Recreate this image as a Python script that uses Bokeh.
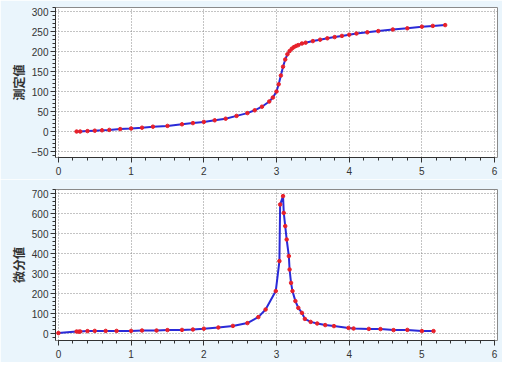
from bokeh.plotting import figure
from bokeh.layouts import column
from bokeh.models import Range1d, SingleIntervalTicker
from bokeh.embed import file_html
from bokeh.resources import INLINE

# Titration curve (測定値)
vol = [0.25, 0.3, 0.4, 0.5, 0.6, 0.7, 0.85, 1.0, 1.15, 1.3, 1.5, 1.7, 1.85, 2.0,
       2.15, 2.3, 2.45, 2.6, 2.7, 2.8, 2.9, 2.95, 3.0, 3.03, 3.06, 3.09, 3.12,
       3.15, 3.18, 3.21, 3.24, 3.27, 3.3, 3.35, 3.4, 3.5, 3.6, 3.7, 3.8, 3.9,
       4.0, 4.1, 4.25, 4.4, 4.6, 4.8, 5.0, 5.15, 5.32]
meas = [0, 0, 1, 2, 3, 4, 6, 7.5, 9.5, 12, 14, 18, 21, 24,
        28, 32, 39, 46, 53, 62, 75, 85, 100, 118, 140, 162, 180,
        193, 201, 207, 211, 214, 216, 220, 222, 226, 229.5, 233, 236, 239,
        242, 245, 248, 251, 255, 258, 262, 264, 266]

# Derivative curve (微分値)
dvol = [0.0, 0.25, 0.28, 0.3, 0.4, 0.5, 0.65, 0.8, 1.0, 1.15, 1.35, 1.5, 1.7,
        1.85, 2.0, 2.2, 2.4, 2.6, 2.75, 2.85, 2.99, 3.04, 3.05, 3.09, 3.10,
        3.12, 3.14, 3.17, 3.18, 3.20, 3.22, 3.26, 3.30, 3.35, 3.39, 3.47, 3.56,
        3.67, 3.79, 3.99, 4.06, 4.27, 4.43, 4.61, 4.80, 5.00, 5.16]
deriv = [2, 10, 9, 10, 12, 13, 13, 13, 13, 15, 15, 17, 18,
         20, 24, 30, 38, 52, 82, 120, 212, 362, 645, 687, 603,
         537, 470, 387, 320, 253, 212, 162, 128, 103, 73, 58, 50,
         42, 37, 28, 25, 23, 22, 17, 18, 12, 12]

x_ticks_interval = 1
BG = "#eaf5fc"
TICK_FONT = "'Liberation Sans Narrow', 'Liberation Sans', sans-serif"


def make_fig(xs, ys, label, yr, yint, top_border, frame_h):
    p = figure(width=502, height=top_border + frame_h + 22,
               x_range=Range1d(-0.04, 6.04), y_range=Range1d(*yr),
               output_backend="svg", toolbar_location=None)
    p.min_border_left = 55
    p.min_border_right = 5
    p.min_border_top = top_border
    p.min_border_bottom = 22
    p.border_fill_color = BG
    p.background_fill_color = "white"
    p.outline_line_color = "#8a8a8a"
    p.outline_line_width = 1

    p.xaxis.ticker = SingleIntervalTicker(interval=x_ticks_interval, num_minor_ticks=5)
    p.xaxis.bounds = (0, 6)
    p.yaxis.ticker = SingleIntervalTicker(interval=yint, num_minor_ticks=5)
    for ax in (p.xaxis, p.yaxis):
        ax.axis_line_color = "#333333"
        ax.major_tick_line_color = "#333333"
        ax.minor_tick_line_color = "#333333"
        ax.major_tick_out = 5
        ax.major_tick_in = 0
        ax.minor_tick_out = 3
        ax.minor_tick_in = 0
        ax.major_label_text_font = TICK_FONT
        ax.major_label_text_font_size = "10px"
        ax.major_label_text_color = "#333333"
    p.xaxis.major_label_standoff = 4
    p.yaxis.major_label_standoff = 2
    p.yaxis.axis_label = label
    p.yaxis.axis_label_text_font = "Noto Sans CJK JP"
    p.yaxis.axis_label_text_font_size = "12px"
    p.yaxis.axis_label_text_font_style = "bold"
    p.yaxis.axis_label_text_color = "#333333"
    p.yaxis.axis_label_standoff = 2

    p.grid.grid_line_color = "#888888"
    p.grid.grid_line_dash = "1 2"
    p.grid.grid_line_width = 1

    p.line(xs, ys, line_color="#2a2ad8", line_width=2)
    p.scatter(xs, ys, size=3.5, fill_color="#e8202a", line_color="#e8202a")
    return p


p1 = make_fig(vol, meas, "測定値", (-65, 310), 50, 7, 150)
p2 = make_fig(dvol, deriv, "微分値", (-35, 720), 100, 10, 151)

layout = column(p1, p2, spacing=0)
open("out.html", "w").write(file_html(layout, INLINE))
